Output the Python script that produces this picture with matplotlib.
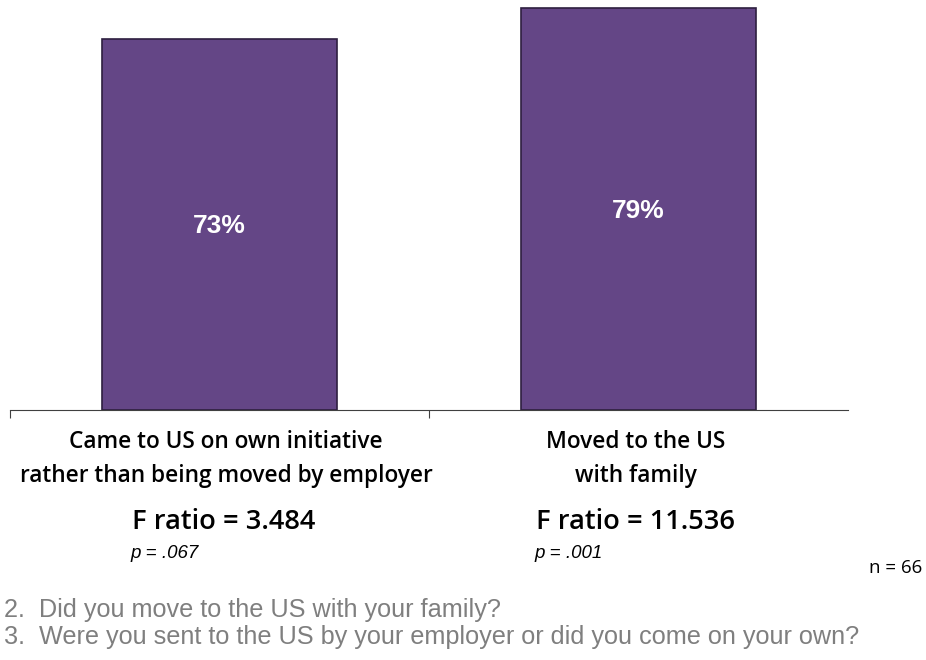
import matplotlib.pyplot as plt
import numpy as np

categories = ["Came to US on own initiative\nrather than being moved by employer",
              "Moved to the US\nwith family"]
values = [73, 79]
f_ratios = ["F ratio = 3.484", "F ratio = 11.536"]
p_values = ["p = .067", "p = .001"]
sample_note = "n = 66"
questions = ["2.  Did you move to the US with your family?",
             "3.  Were you sent to the US by your employer or did you come on your own?"]

W, H = 926, 660
fig = plt.figure(figsize=(W / 100, H / 100), dpi=100)
ax = fig.add_axes([10 / W, (H - 410) / H, (848 - 10) / W, (410 - 3) / H])

x = np.arange(len(values))
bars = ax.bar(x, values, width=0.56, color="#644686", edgecolor="#2e1f40", linewidth=1.2)
for b, v in zip(bars, values):
    ax.annotate(f"{v}%", (b.get_x() + b.get_width() / 2, v / 2),
                xytext=(0, -1.5), textcoords="offset points",
                ha="center", va="center", color="white", fontsize=19,
                fontweight="bold", family="Liberation Sans")

ax.set_xlim(-0.5, 1.5)
ax.set_ylim(0, 80)
for s in ["top", "right", "left"]:
    ax.spines[s].set_visible(False)
ax.spines["bottom"].set_color("#404040")
ax.set_yticks([])
ax.set_xticks([-0.5, 0.5])
ax.set_xticklabels([])
ax.tick_params(axis="x", length=6, color="#404040", direction="out")

def fx(px):
    return px / W

def fy(py):
    return 1 - py / H

label_font = dict(family="Open Sans", fontweight="semibold", color="black")
cx = [226, 636]
for i, cat in enumerate(categories):
    fig.text(fx(cx[i]), fy(459), cat, ha="center", va="center", fontsize=16.3,
             linespacing=1.5, **label_font)
fx_left = [132, 536]
for i in range(2):
    fig.text(fx(fx_left[i]), fy(522), f_ratios[i], ha="left", va="center",
             fontsize=19.6, **label_font)
    fig.text(fx(fx_left[i] - 2), fy(553), p_values[i], ha="left", va="center",
             fontsize=13.5, style="italic", family="Liberation Sans", color="black")

fig.text(fx(922), fy(568), sample_note, ha="right", va="center", fontsize=13.5,
         family="Open Sans", color="black")
fig.text(fx(4), fy(610), questions[0], ha="left", va="center", fontsize=18.2,
         family="Liberation Sans", color="#7f7f7f")
fig.text(fx(4), fy(637), questions[1], ha="left", va="center", fontsize=18.2,
         family="Liberation Sans", color="#7f7f7f")

fig.savefig("out.png", dpi=100)
